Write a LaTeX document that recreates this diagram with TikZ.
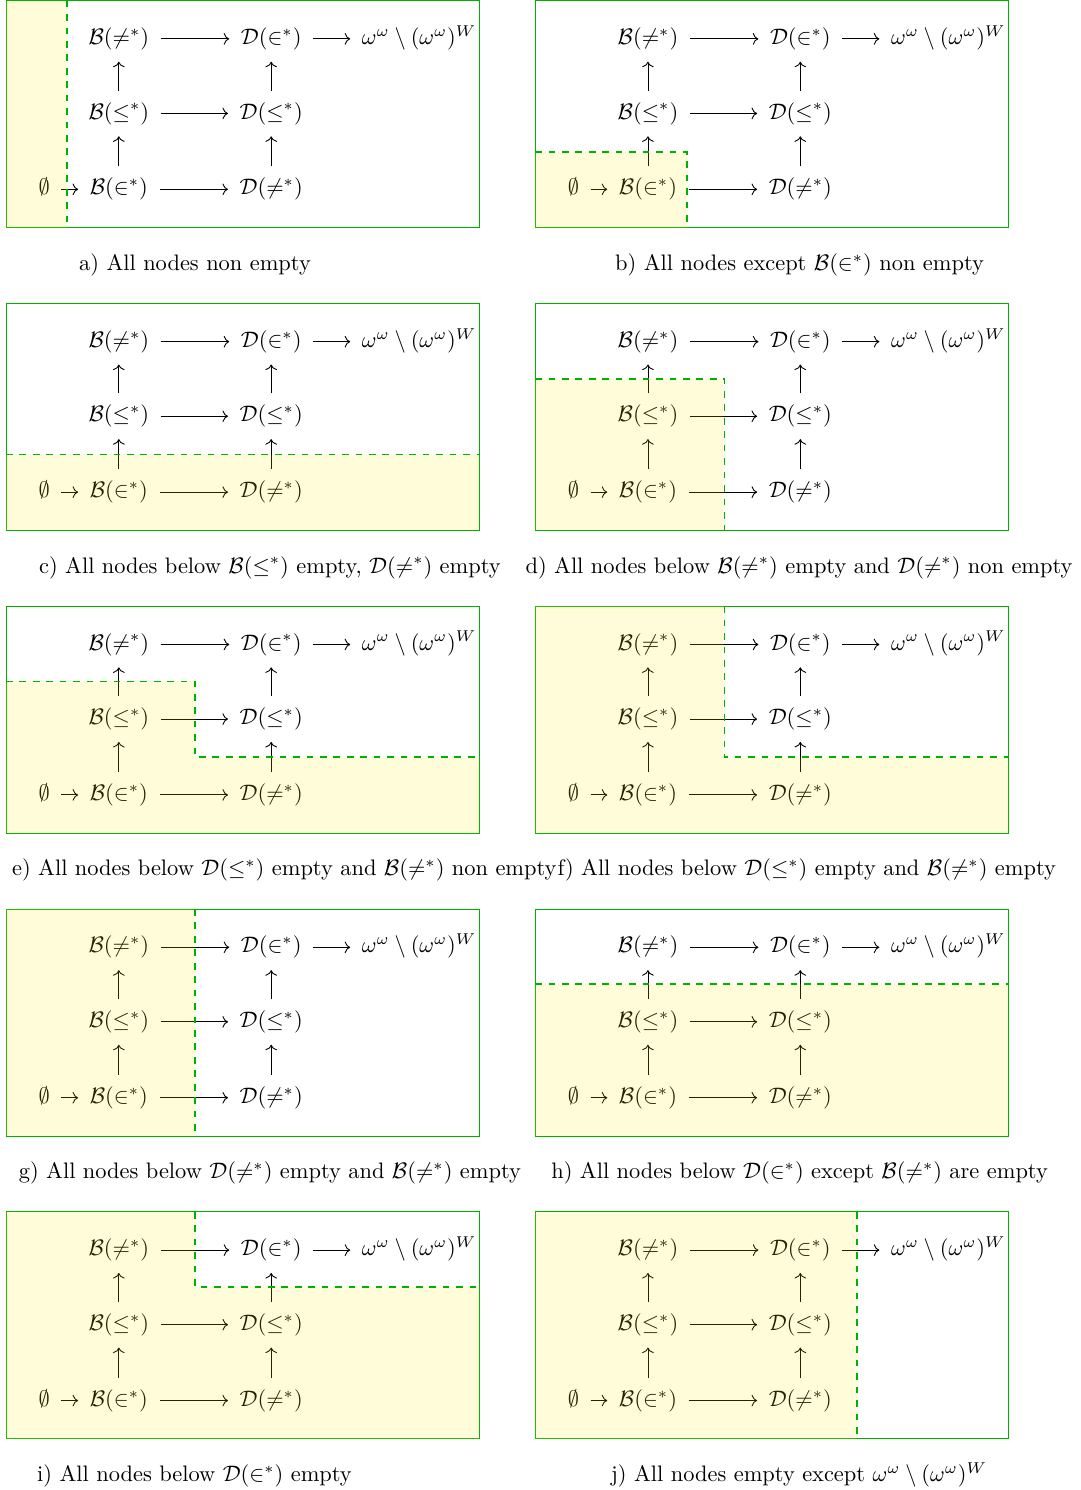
\documentclass[tikz,border=0pt]{standalone}
\usepackage{amssymb}
\usepackage{amsmath}
\usetikzlibrary{arrows.meta, positioning}

\begin{document}
\begin{tikzpicture}[
    cell/.style={inner sep=5pt, text height=7.5pt, text depth=2.5pt},
    arr/.style={->},
    panelframe/.style={green!70!black},
    emptyzone/.style={fill=yellow, fill opacity=0.15},
    cutline/.style={dashed, thick, green!70!black},
    capt/.style={anchor=base, inner sep=0pt}
  ]
    \useasboundingbox (-0.094,-4.363) rectangle (16.863,19.01);

    % Same diagram in all ten panels
    \foreach \p/\px/\py in {a/0/19, b/8.3/19, c/0/14.25, d/8.3/14.25, e/0/9.5,
                            f/8.3/9.5, g/0/4.75, h/8.3/4.75, i/0/0, j/8.3/0} {
      \begin{scope}[shift={(\px,\py)}]
        \draw[panelframe] (0,0) rectangle (7.42,-3.56);
        \node[cell] (E\p) at (0.60,-2.96) {$\emptyset$};
        \node[cell] (Bin\p) at (1.77,-2.96) {$\mathcal{B}(\in^*)$};
        \node[cell] (Ble\p) at (1.77,-1.77) {$\mathcal{B}(\leq^*)$};
        \node[cell] (Bne\p) at (1.77,-0.60) {$\mathcal{B}(\neq^*)$};
        \node[cell] (Dne\p) at (4.16,-2.96) {$\mathcal{D}(\neq^*)$};
        \node[cell] (Dle\p) at (4.16,-1.77) {$\mathcal{D}(\leq^*)$};
        \node[cell] (Din\p) at (4.16,-0.60) {$\mathcal{D}(\in^*)$};
        \node[cell] (W\p) at (6.48,-0.60) {$\omega^\omega\setminus(\omega^\omega)^W$};

        % horizontal arrows
        \draw[arr] (E\p) -- (Bin\p);
        \draw[arr] (Bin\p) -- (Dne\p);
        \draw[arr] (Ble\p) -- (Dle\p);
        \draw[arr] (Bne\p) -- (Din\p);
        \draw[arr] (Din\p) -- (W\p);

        % vertical arrows
        \draw[arr] (Bin\p) -- (Ble\p);
        \draw[arr] (Ble\p) -- (Bne\p);
        \draw[arr] (Dne\p) -- (Dle\p);
        \draw[arr] (Dle\p) -- (Din\p);
      \end{scope}
    }

    % a) 
    \begin{scope}[shift={(0,19)}]
      \fill[emptyzone] (0,0) rectangle (0.96,-3.56);
      \draw[cutline] (0.96,0) -- (0.96,-3.56);
      \node[capt] (capa) at (2.965,-4.23) {a) All nodes non empty};
    \end{scope}

    % b)
    \begin{scope}[shift={(8.3,19)}]
      \fill[emptyzone] (0,-2.37) rectangle (2.38,-3.56);
      \draw[cutline] (0,-2.37) -- (2.38,-2.37) -- (2.38,-3.56);
      \node[capt] (capb) at (4.149,-4.23) {b) All nodes except $\mathcal{B}(\in^*)$ non empty};
    \end{scope}

    % c)
    \begin{scope}[shift={(0,14.25)}]
      \fill[emptyzone] (0,-2.37) rectangle (7.42,-3.56);
      \draw[cutline] (0,-2.37) -- (7.42,-2.37);
      \node[capt] (capc) at (4.14,-4.23) {c) All nodes below $\mathcal{B}(\leq^*)$ empty, $\mathcal{D}(\neq^*)$ empty};
    \end{scope}

    % d)
    \begin{scope}[shift={(8.3,14.25)}]
      \fill[emptyzone] (0,-1.18) rectangle (2.97,-3.56);
      \draw[cutline] (0,-1.18) -- (2.97,-1.18) -- (2.97,-3.56);
      \node[capt] (capd) at (4.14,-4.23) {d) All nodes below $\mathcal{B}(\neq^*)$ empty and $\mathcal{D}(\neq^*)$ non empty};
    \end{scope}

    % e)
    \begin{scope}[shift={(0,9.5)}]
      \fill[emptyzone] (0,-1.18) -- (2.97,-1.18) -- (2.97,-2.37) -- (7.42,-2.37)
        -- (7.42,-3.56) -- (0,-3.56) -- cycle;
      \draw[cutline] (0,-1.18) -- (2.97,-1.18) -- (2.97,-2.37) -- (7.42,-2.37);
      \node[capt, anchor=base east] (cape) at (8.643,-4.23) {e) All nodes below $\mathcal{D}(\leq^*)$ empty and $\mathcal{B}(\neq^*)$ non empty};
    \end{scope}

    % f)
    \begin{scope}[shift={(8.3,9.5)}]
      \fill[emptyzone] (0,0) -- (2.97,0) -- (2.97,-2.37) -- (7.42,-2.37)
        -- (7.42,-3.56) -- (0,-3.56) -- cycle;
      \draw[cutline] (2.97,0) -- (2.97,-2.37) -- (7.42,-2.37);
      \node[capt, anchor=base west] (capf) at (0.345,-4.23) {f) All nodes below $\mathcal{D}(\leq^*)$ empty and $\mathcal{B}(\neq^*)$ empty};
    \end{scope}

    % g)
    \begin{scope}[shift={(0,4.75)}]
      \fill[emptyzone] (0,0) rectangle (2.97,-3.56);
      \draw[cutline] (2.97,0) -- (2.97,-3.56);
      \node[capt] (capg) at (4.14,-4.23) {g) All nodes below $\mathcal{D}(\neq^*)$ empty and $\mathcal{B}(\neq^*)$ empty};
    \end{scope}

    % h)
    \begin{scope}[shift={(8.3,4.75)}]
      \fill[emptyzone] (0,-1.18) rectangle (7.42,-3.56);
      \draw[cutline] (0,-1.18) -- (7.42,-1.18);
      \node[capt] (caph) at (4.149,-4.23) {h) All nodes below $\mathcal{D}(\in^*)$ except $\mathcal{B}(\neq^*)$ are empty};
    \end{scope}

    % i)
    \begin{scope}[shift={(0,0)}]
      \fill[emptyzone] (0,0) -- (2.97,0) -- (2.97,-1.18) -- (7.42,-1.18)
        -- (7.42,-3.56) -- (0,-3.56) -- cycle;
      \draw[cutline] (2.97,0) -- (2.97,-1.18) -- (7.42,-1.18);
      \node[capt] (capi) at (2.957,-4.23) {i) All nodes below $\mathcal{D}(\in^*)$ empty};
    \end{scope}

    % j)
    \begin{scope}[shift={(8.3,0)}]
      \fill[emptyzone] (0,0) rectangle (5.05,-3.56);
      \draw[cutline] (5.05,0) -- (5.05,-3.56);
      \node[capt] (capj) at (4.14,-4.23) {j) All nodes empty except $\omega^\omega\setminus(\omega^\omega)^W$};
    \end{scope}

\end{tikzpicture}
\end{document}
